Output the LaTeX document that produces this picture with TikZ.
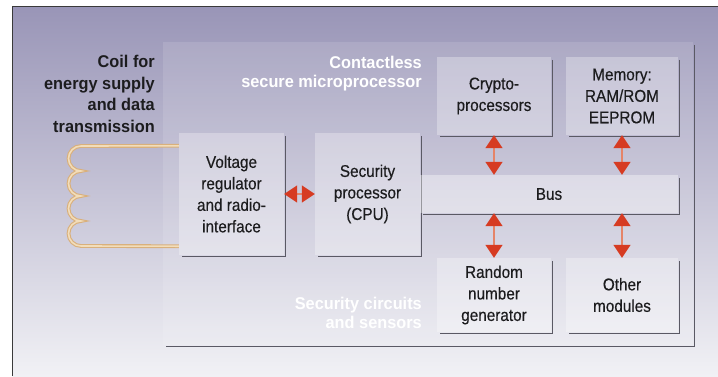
\documentclass[tikz,border=0pt]{standalone}
\usepackage{xcolor}
\usepackage{fontspec}
\setmainfont{Liberation Sans}[FakeStretch=0.9,FakeBold=0.35]
\newfontfamily\headfont{Liberation Sans}[FakeStretch=0.96]
\usepackage{tikz}
\usetikzlibrary{arrows.meta}

\definecolor{bgtop}{HTML}{9995B7}
\definecolor{bgmid}{HTML}{BFBED3}
\definecolor{bgbot}{HTML}{F1F1F5}
\definecolor{framegray}{HTML}{3A3A3A}
\definecolor{shadowgray}{HTML}{5A5964}
\definecolor{tipred}{HTML}{D63B22}
\definecolor{shaftred}{HTML}{E58468}
\definecolor{coiltan}{HTML}{D9B07C}
\definecolor{coillight}{HTML}{F2DDBA}
\definecolor{boxtext}{HTML}{1C1C1E}

\tikzset{
  modbox/.style={fill=white, fill opacity=0.3, text opacity=1, text=boxtext,
    align=center, inner sep=0pt, font=\fontsize{17}{21.5}\selectfont},
  chiplabel/.style={text=white, align=right, anchor=east, inner sep=0pt,
    font=\headfont\bfseries\fontsize{17}{19}\selectfont},
  coillabel/.style={text=boxtext, align=right, anchor=east, inner sep=0pt,
    font=\headfont\bfseries\fontsize{17}{21.5}\selectfont},
  shadowline/.style={draw=shadowgray, line width=1.8pt},
  dblarrow/.style={draw=shaftred, line width=1.4pt, <->,
    >={Triangle[width=17pt,length=13pt,color=tipred]}},
  coil/.style={draw=coiltan, line width=1.1pt, double=coillight, double distance=1.6pt}
}

\newcommand{\boxshadow}[1]{%
  \draw[shadowline] ([xshift=1.2pt,yshift=-3pt]#1.north east)
    -- ([xshift=1.2pt,yshift=-1.2pt]#1.south east)
    -- ([xshift=3pt,yshift=-1.2pt]#1.south west);}

\begin{document}
\begin{tikzpicture}[x=1pt,y=-1pt]
  \useasboundingbox (0,0) rectangle (718,376);

  % Background and frame
  \shade[top color=bgtop, middle color=bgmid, bottom color=bgbot] (12.5,6.5) rectangle (718,376);
  \draw[framegray, line width=1pt] (12.5,376) -- (12.5,6.5) -- (718,6.5);

  % Chip
  \node[fill=white, fill opacity=0.12, inner sep=0pt, minimum width=530pt, minimum height=303pt] (chip) at (428,193.5) {};

  % Modules
  \node[modbox, minimum width=105pt, minimum height=122pt] (vr) at (231.5,194) {Voltage\\regulator\\and radio-\\interface};
  \node[modbox, minimum width=105pt, minimum height=122pt] (cpu) at (367.5,194) {Security\\processor\\(CPU)};
  \node[modbox, minimum width=114pt, minimum height=78pt] (crypto) at (494,96) {Crypto-\\processors};
  \node[modbox, minimum width=112pt, minimum height=78pt] (mem) at (622,96) {Memory:\\RAM/ROM\\EEPROM};
  \node[modbox, minimum width=114pt, minimum height=74pt] (rng) at (494,295) {Random\\number\\generator};
  \node[modbox, minimum width=112pt, minimum height=74pt] (other) at (622,295) {Other\\modules};
  \foreach \n in {chip,vr,cpu,crypto,mem,rng,other} {\boxshadow{\n}}
  \node[modbox, fill opacity=0.38, minimum width=258pt, minimum height=38pt] (bus) at (549,194) {Bus};
  \boxshadow{bus}

  % Labels
  \node[chiplabel] (chiptitle) at (422,73.5) {Contactless\\secure microprocessor};
  \node[chiplabel] (sensors) at (422,313) {Security circuits\\and sensors};
  \node[coillabel] (coiltext) at (155,94) {Coil for\\energy supply\\and data\\transmission};

  % Coil
  \coordinate (coiltop) at ([yshift=-13pt]vr.north west);
  \coordinate (coilbot) at ([yshift=9pt]vr.south west);
  \draw[coil] (coiltop) -- (81,146)
    arc[start angle=-90, end angle=-270, radius=12.5]
    arc[start angle=-90, end angle=-270, radius=12.5]
    arc[start angle=-90, end angle=-270, radius=12.5]
    arc[start angle=-90, end angle=-270, radius=12.5]
    -- (coilbot);

  % Data paths
  \draw[dblarrow] (vr) -- (cpu);
  \draw[dblarrow] (crypto.south) -- (crypto.south |- bus.north);
  \draw[dblarrow] (mem.south) -- (mem.south |- bus.north);
  \draw[dblarrow] (rng.north) -- (rng.north |- bus.south);
  \draw[dblarrow] (other.north) -- (other.north |- bus.south);
\end{tikzpicture}
\end{document}
